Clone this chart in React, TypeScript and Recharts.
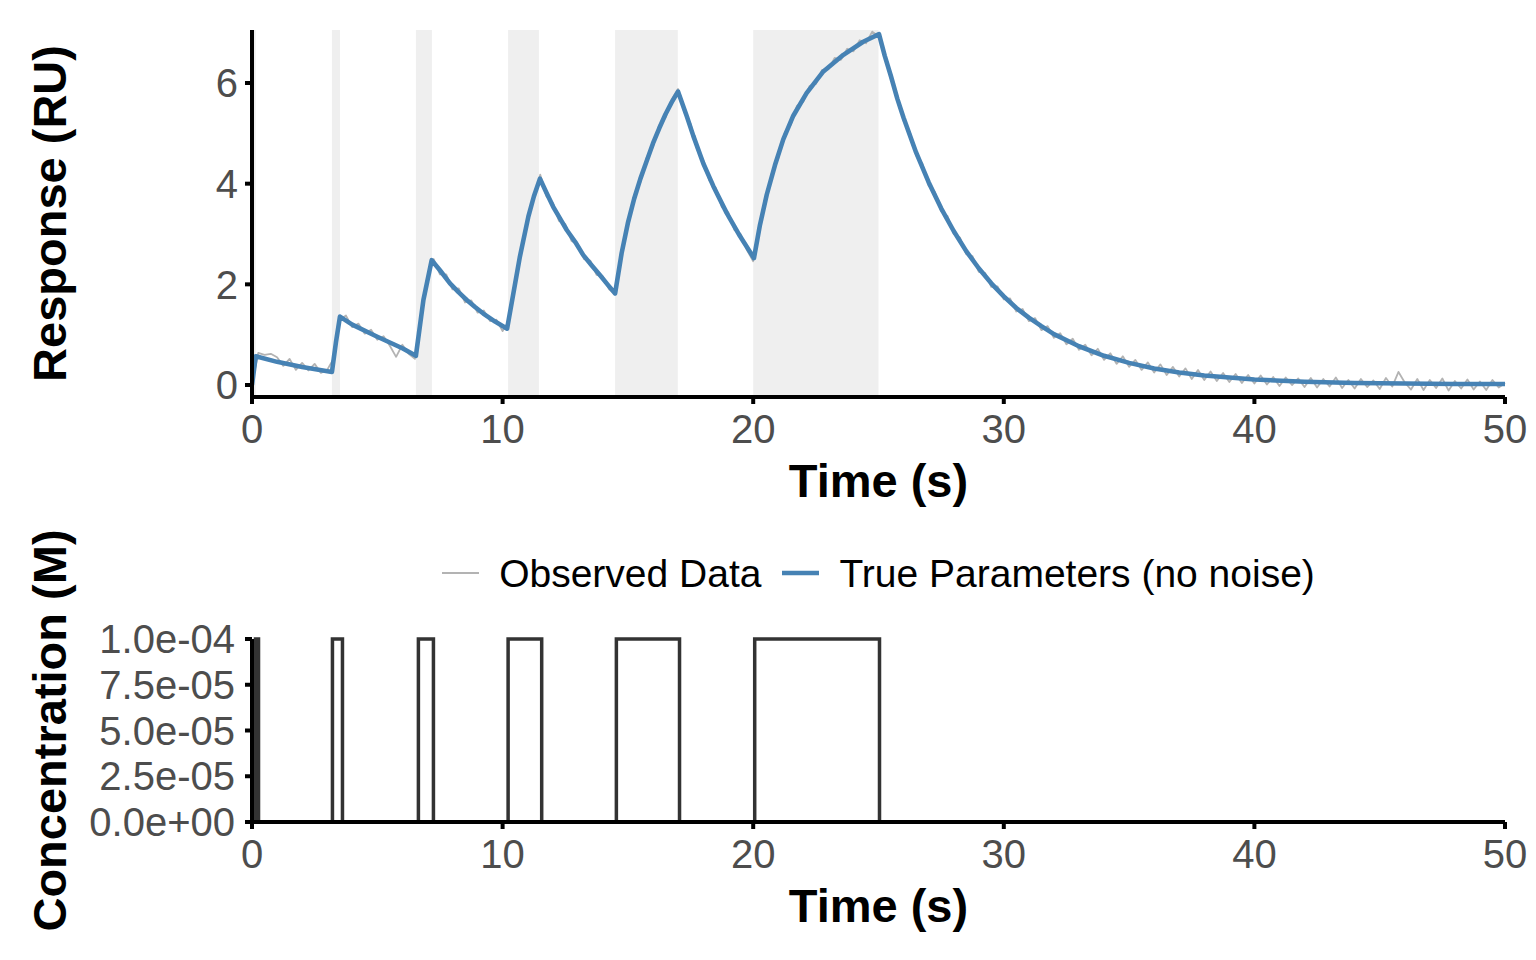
import React from "react";
import { LineChart, Line, XAxis, YAxis, ReferenceArea, Legend, Label } from "recharts";

const FONT = '"Liberation Sans", Arial, Helvetica, sans-serif';
const TICK_GREY = "#4D4D4D";
const OBS_COLOR = "#B3B3B3";
const TRUE_COLOR = "#4682B4";
const CONC_COLOR = "#333333";
const SHADE = "#EFEFEF";

const timeTicks = [0, 10, 20, 30, 40, 50];
const responseTicks = [0, 2, 4, 6];
const concTicks = [0, 2.5e-5, 5e-5, 7.5e-5, 1e-4];

// contact (injection) windows shaded in the response panel, seconds
const contactStart = [0, 3.19, 6.54, 10.22, 14.49, 20.0];
const contactEnd = [0.15, 3.51, 7.18, 11.45, 16.99, 25.0];

// observed sensorgram, sampled every 0.25 s from t = 0
const obsStep = 0.25;
const observedRU = [
  0.03, 0.64, 0.6, 0.62, 0.55, 0.38, 0.52, 0.3, 0.44, 0.29, 0.42, 0.24,
  0.3, 0.52, 1.3, 1.38, 1.15, 1.22, 1.02, 1.1, 0.9, 0.97, 0.78, 0.56,
  0.8, 0.62, 0.52, 1.4, 2.12, 2.5, 2.2, 2.2, 1.9, 1.92, 1.64, 1.68,
  1.44, 1.48, 1.27, 1.3, 1.07, 1.28, 2.1, 2.62, 3.35, 3.7, 4.18, 3.75,
  3.62, 3.26, 3.2, 2.86, 2.8, 2.5, 2.47, 2.19, 2.16, 1.9, 1.8, 2.68,
  3.16, 3.77, 4.03, 4.52, 4.73, 5.16, 5.31, 5.68, 5.88, 5.42, 5.19, 4.7,
  4.48, 4.06, 3.92, 3.53, 3.44, 3.08, 3.0, 2.68, 2.46, 3.2, 3.64, 4.23,
  4.5, 5.0, 5.17, 5.55, 5.63, 5.94, 5.98, 6.26, 6.27, 6.5, 6.46, 6.68,
  6.63, 6.85, 6.79, 7.02, 6.93, 6.6, 6.07, 5.76, 5.25, 5.03, 4.56, 4.4,
  3.96, 3.83, 3.45, 3.36, 3.0, 2.93, 2.6, 2.56, 2.25, 2.23, 1.95, 1.96,
  1.7, 1.72, 1.46, 1.51, 1.27, 1.33, 1.09, 1.17, 0.94, 1.03, 0.81, 0.92,
  0.7, 0.8, 0.59, 0.72, 0.5, 0.63, 0.42, 0.57, 0.36, 0.5, 0.3, 0.45,
  0.25, 0.41, 0.2, 0.36, 0.17, 0.33, 0.12, 0.3, 0.1, 0.27, 0.08, 0.24,
  0.06, 0.22, 0.04, 0.2, 0.03, 0.19, 0.01, 0.16, -0.02, 0.15, 0.0, 0.13,
  -0.04, 0.14, -0.05, 0.12, -0.03, 0.15, -0.06, 0.1, -0.07, 0.12, -0.04, 0.09,
  -0.08, 0.14, -0.03, 0.26, 0.05, -0.09, 0.12, -0.1, 0.1, -0.06, 0.13, -0.11,
  0.08, -0.07, 0.11, -0.09, 0.07, -0.1, 0.1, -0.05, 0.04,
];

// noise-free model curve
const trueTime = [
  0, 0.15, 1, 2, 3.19, 3.35, 3.51, 4, 5, 6, 6.54, 6.84, 7.17, 7.5, 7.9, 8.25,
  8.57, 8.9, 9.23, 9.7, 10.18, 10.43, 10.69, 11.03, 11.25, 11.49, 11.75, 12.02,
  12.3, 12.56, 12.9, 13.22, 13.55, 13.89, 14.2, 14.49, 14.75, 15.0, 15.25, 15.5,
  15.75, 16.0, 16.25, 16.5, 16.75, 17.0, 17.35, 17.61, 18.01, 18.41, 18.94,
  19.47, 20.03, 20.27, 20.54, 20.87, 21.2, 21.6, 22.13, 22.8, 23.6, 24.39,
  25.02, 25.25, 25.5, 25.75, 26, 26.5, 27, 27.5, 28, 28.5, 29, 29.5, 30, 30.5,
  31, 31.5, 32, 33, 34, 35, 36, 37, 38, 39, 40, 42, 44, 46, 48, 50,
];
const trueRU = [
  0, 0.57, 0.46, 0.36, 0.26, 0.85, 1.36, 1.2, 0.96, 0.73, 0.58, 1.69, 2.48,
  2.28, 2.02, 1.84, 1.69, 1.55, 1.42, 1.26, 1.12, 1.82, 2.55, 3.35, 3.75, 4.1,
  3.82, 3.54, 3.3, 3.08, 2.84, 2.58, 2.38, 2.18, 1.99, 1.82, 2.62, 3.22, 3.7,
  4.1, 4.45, 4.8, 5.1, 5.38, 5.62, 5.83, 5.34, 4.95, 4.4, 3.95, 3.42, 2.96,
  2.52, 3.18, 3.78, 4.37, 4.88, 5.35, 5.8, 6.23, 6.56, 6.82, 6.97, 6.54, 6.13,
  5.69, 5.31, 4.62, 4.03, 3.51, 3.06, 2.66, 2.32, 2.02, 1.76, 1.53, 1.34, 1.17,
  1.01, 0.77, 0.58, 0.44, 0.33, 0.25, 0.19, 0.15, 0.11, 0.065, 0.04, 0.03,
  0.02, 0.02,
];

// analyte concentration steps
const concTime = [0, 0.14, 0.26, 3.21, 3.61, 6.64, 7.24, 10.22, 11.56, 14.54, 17.06, 20.06, 25.04, 50];
const concM = [0, 1e-4, 0, 1e-4, 0, 1e-4, 0, 1e-4, 0, 1e-4, 0, 1e-4, 0, 0];

const legendItems = [
  { name: "Observed Data", color: OBS_COLOR, width: 2 },
  { name: "True Parameters (no noise)", color: TRUE_COLOR, width: 4.5 },
];

const observed = observedRU.map((r, i) => ({ t: i * obsStep, r }));
const truth = trueTime.map((t, i) => ({ t, r: trueRU[i] }));
const conc = concTime.map((t, i) => ({ t, c: concM[i] }));

const sci = (v: number) => {
  const [m, e] = v.toExponential(1).split("e");
  const n = Number(e);
  return `${m}e${n < 0 ? "-" : "+"}${String(Math.abs(n)).padStart(2, "0")}`;
};

const tickStyle = { fill: TICK_GREY, fontSize: 40, fontFamily: FONT };
const axisLine = { stroke: "#000", strokeWidth: 4 };

const xTitle = (props: any) => {
  const vb = props.viewBox ?? {};
  const cx = (vb.x ?? 252) + (vb.width ?? 1253) / 2;
  const y = (vb.y ?? 397) + 100;
  return (
    <text x={cx} y={y} textAnchor="middle" fontFamily={FONT} fontSize={47} fontWeight="bold" fill="#000">
      Time (s)
    </text>
  );
};

const yTitle = (text: string) => (props: any) => {
  const vb = props.viewBox ?? {};
  const cy = (vb.y ?? 0) + (vb.height ?? 0) / 2;
  const x = 66;
  return (
    <text
      x={x}
      y={cy}
      transform={`rotate(-90 ${x} ${cy})`}
      textAnchor="middle"
      fontFamily={FONT}
      fontSize={47}
      fontWeight="bold"
      fill="#000"
    >
      {text}
    </text>
  );
};

function LegendBox() {
  return (
    <div
      style={{
        height: 70,
        boxSizing: "border-box",
        paddingLeft: 252,
        paddingBottom: 4,
        display: "flex",
        justifyContent: "center",
        alignItems: "center",
        fontFamily: FONT,
        fontSize: 39,
        color: "#000",
      }}
    >
      {legendItems.map((it, i) => (
        <div key={it.name} style={{ display: "flex", alignItems: "center", marginLeft: i ? 21 : 0 }}>
          <svg width={37} height={12} style={{ display: "block" }}>
            <line x1={0} x2={37} y1={6} y2={6} stroke={it.color} strokeWidth={it.width} />
          </svg>
          <span style={{ marginLeft: 20, lineHeight: 1, whiteSpace: "nowrap" }}>{it.name}</span>
        </div>
      ))}
    </div>
  );
}

export default function App() {
  return (
    <div style={{ position: "absolute", left: 0, top: 0, width: 1536, height: 960, background: "#fff" }}>
      <style>{`.recharts-surface { overflow: visible; }`}</style>
      <div style={{ position: "absolute", left: 0, top: 0 }}>
        <LineChart width={1536} height={610} margin={{ top: 30, right: 31, left: 0, bottom: 0 }}>
          {contactStart.map((s, i) => (
            <ReferenceArea key={i} x1={s} x2={contactEnd[i]} fill={SHADE} fillOpacity={1} stroke="none" />
          ))}
          <XAxis
            dataKey="t"
            type="number"
            domain={[0, 50]}
            ticks={timeTicks}
            interval={0}
            height={143}
            tick={tickStyle}
            tickSize={7}
            tickMargin={11}
            tickLine={axisLine}
            axisLine={axisLine}
          >
            <Label content={xTitle} />
          </XAxis>
          <YAxis
            type="number"
            domain={[-0.238, 7.053]}
            ticks={responseTicks}
            interval={0}
            width={252}
            tick={tickStyle}
            tickSize={7}
            tickMargin={7}
            tickLine={axisLine}
            axisLine={axisLine}
          >
            <Label content={yTitle("Response (RU)")} />
          </YAxis>
          <Line
            data={observed}
            dataKey="r"
            name="Observed Data"
            type="linear"
            stroke={OBS_COLOR}
            strokeWidth={1.8}
            strokeLinejoin="round"
            dot={false}
            activeDot={false}
            isAnimationActive={false}
          />
          <Line
            data={truth}
            dataKey="r"
            name="True Parameters (no noise)"
            type="linear"
            stroke={TRUE_COLOR}
            strokeWidth={4.6}
            strokeLinejoin="round"
            dot={false}
            activeDot={false}
            isAnimationActive={false}
          />
          <Legend verticalAlign="bottom" content={<LegendBox />} />
        </LineChart>
      </div>
      <div style={{ position: "absolute", left: 0, top: 610 }}>
        <LineChart width={1536} height={350} margin={{ top: 29, right: 31, left: 0, bottom: 0 }}>
          <XAxis
            dataKey="t"
            type="number"
            domain={[0, 50]}
            ticks={timeTicks}
            interval={0}
            height={138}
            tick={tickStyle}
            tickSize={7}
            tickMargin={11}
            tickLine={axisLine}
            axisLine={axisLine}
          >
            <Label content={xTitle} />
          </XAxis>
          <YAxis
            type="number"
            domain={[0, 1e-4]}
            ticks={concTicks}
            interval={0}
            width={252}
            tick={tickStyle}
            tickSize={7}
            tickMargin={10}
            tickLine={axisLine}
            axisLine={axisLine}
            tickFormatter={sci}
          >
            <Label content={yTitle("Concentration (M)")} />
          </YAxis>
          <Line
            data={conc}
            dataKey="c"
            type="stepAfter"
            stroke={CONC_COLOR}
            strokeWidth={3.5}
            dot={false}
            activeDot={false}
            isAnimationActive={false}
          />
        </LineChart>
      </div>
    </div>
  );
}
